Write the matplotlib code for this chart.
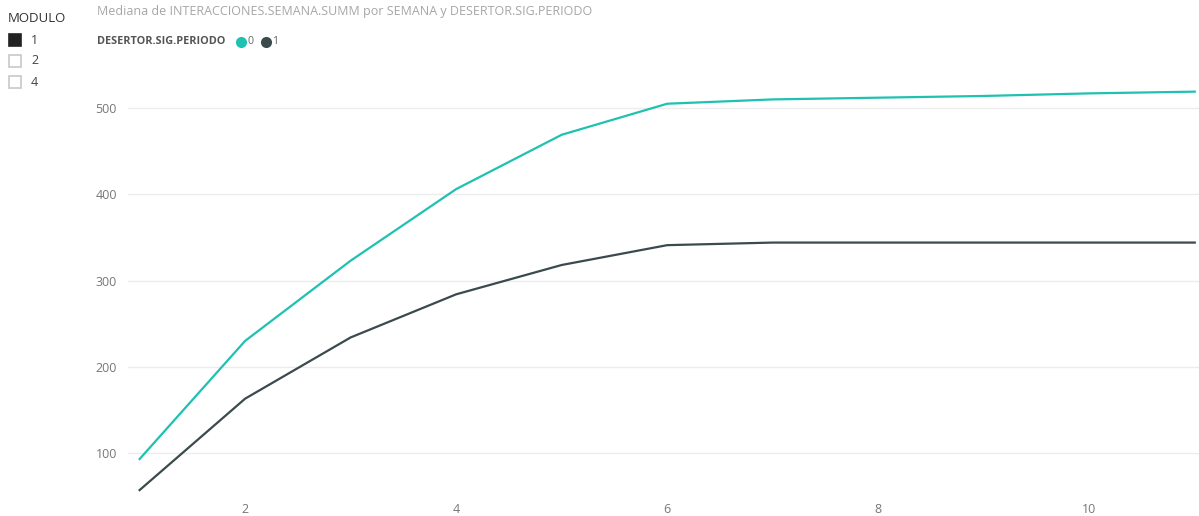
import matplotlib.pyplot as plt
from matplotlib.patches import Rectangle
from matplotlib.lines import Line2D

# data
semana = [1, 2, 3, 4, 5, 6, 7, 8, 9, 10, 11]
desertor_0 = [93, 230, 323, 406, 469, 505, 510, 512, 514, 517, 519]
desertor_1 = [57, 163, 234, 284, 318, 341, 344, 344, 344, 344, 344]
series_names = ['0', '1']
modulo_options = ['1', '2', '4']
modulo_selected = '1'
x_ticks = [2, 4, 6, 8, 10]
y_ticks = [100, 200, 300, 400, 500]

teal = '#1fc1b0'
dark = '#3b4a4d'
W, H = 1199, 516

plt.rcParams['font.family'] = ['Open Sans', 'DejaVu Sans']

fig = plt.figure(figsize=(W / 100, H / 100), dpi=100)
ax = fig.add_axes([128 / W, 1 - 495 / H, 1 - 128 / W, (495 - 60) / H])

ax.plot(semana, desertor_0, color=teal, lw=1.6)
ax.plot(semana, desertor_1, color=dark, lw=1.6)

ax.set_xlim(0.89, 11.04)
ax.set_ylim(51.3, 555.7)
ax.set_xticks(x_ticks)
ax.set_yticks(y_ticks)
for s in ax.spines.values():
    s.set_visible(False)
ax.grid(axis='y', color='#ececec', lw=1)
ax.set_axisbelow(True)
ax.tick_params(length=0, labelsize=9, labelcolor='#777777')
ax.tick_params(axis='y', pad=8)
ax.tick_params(axis='x', pad=6)

# title
fig.text(97 / W, 1 - 12 / H, 'Mediana de INTERACCIONES.SEMANA.SUMM por SEMANA y DESERTOR.SIG.PERIODO',
         fontsize=9.0, color='#a6a6a6', va='center', ha='left')

# legend
fig.text(97 / W, 1 - 42 / H, 'DESERTOR.SIG.PERIODO', fontsize=7.8, fontweight='bold',
         color='#555555', va='center', ha='left')
lx = [241, 266]
for x0, name, c in zip(lx, series_names, [teal, dark]):
    fig.lines.append(Line2D([x0 / W], [1 - 42 / H], transform=fig.transFigure,
                            marker='o', ms=8, color=c, mec='none', ls='none'))
    fig.text((x0 + 6) / W, 1 - 42 / H, name, fontsize=7.6, color='#666666', va='center', ha='left')

# slicer
fig.text(8 / W, 1 - 18 / H, 'MODULO', fontsize=9.5, color='#333333', va='center', ha='left')
for i, opt in enumerate(modulo_options):
    yc = 40 + i * 21
    filled = opt == modulo_selected
    fig.patches.append(Rectangle((9 / W, 1 - (yc + 6) / H), 12 / W, 12 / H,
                                 transform=fig.transFigure,
                                 facecolor='#222222' if filled else 'white',
                                 edgecolor='#222222' if filled else '#c8c8c8', lw=1.2))
    fig.text(31 / W, 1 - yc / H, opt, fontsize=9, color='#444444', va='center', ha='left')

fig.savefig('out.png', dpi=100)
